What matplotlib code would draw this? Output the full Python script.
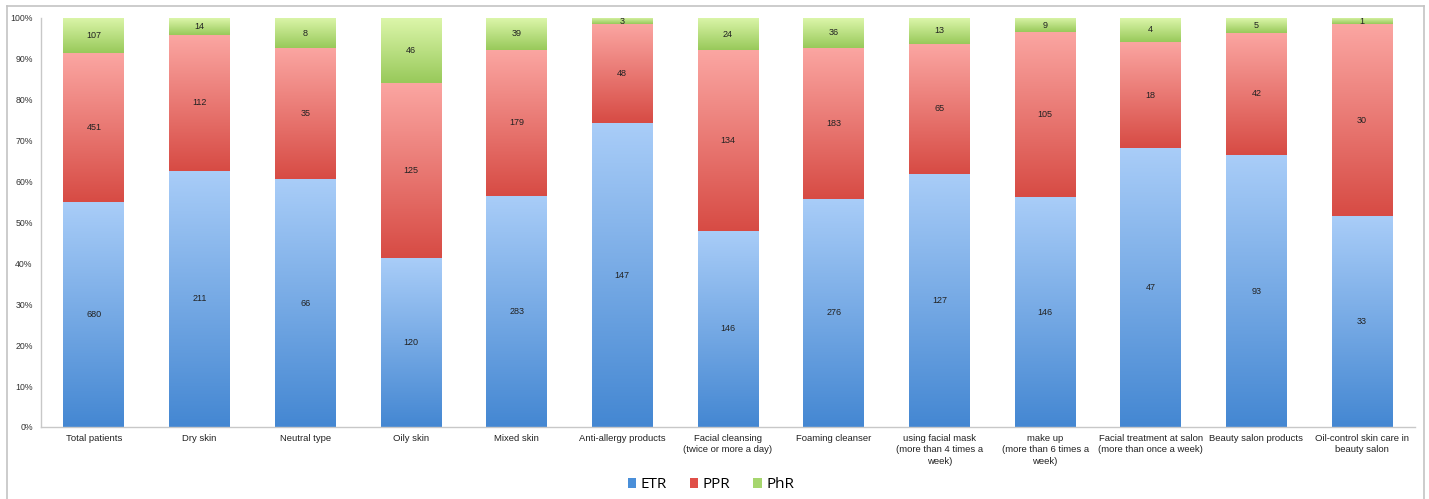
import numpy as np
import matplotlib
matplotlib.use("Agg")
import matplotlib.pyplot as plt
from matplotlib.colors import LinearSegmentedColormap
from matplotlib.lines import Line2D
from matplotlib.patches import Patch

categories = [
    "Total patients", "Dry skin", "Neutral type", "Oily skin", "Mixed skin",
    "Anti-allergy products", "Facial cleansing\n(twice or more a day)",
    "Foaming cleanser", "using facial mask\n(more than 4 times a\nweek)",
    "make up\n(more than 6 times a\nweek)",
    "Facial treatment at salon\n(more than once a week)",
    "Beauty salon products", "Oil-control skin care in\nbeauty salon",
]
etr = [680, 211, 66, 120, 283, 147, 146, 276, 127, 146, 47, 93, 33]
ppr = [451, 112, 35, 125, 179, 48, 134, 183, 65, 105, 18, 42, 30]
phr = [107, 14, 8, 46, 39, 3, 24, 36, 13, 9, 4, 5, 1]
series_names = ["ETR", "PPR", "PhR"]
yticks = [0, 10, 20, 30, 40, 50, 60, 70, 80, 90, 100]

W, H = 1429, 499
fig = plt.figure(figsize=(W / 100, H / 100), dpi=100)
fig.patch.set_facecolor("white")
ax = fig.add_axes([41 / W, 1 - 427 / H, (1415 - 41) / W, (427 - 18) / H])

counts = np.array([etr, ppr, phr], dtype=float)
totals = counts.sum(axis=0)
pct = counts / totals * 100
x = np.arange(len(categories))

grad = [("#a9cdf8", "#4487d2"), ("#fba6a2", "#d74b44"), ("#dcf6aa", "#98c95a")]
legend_cols = ["#4a8fd9", "#e04f48", "#a6d66e"]

bottom = np.zeros(len(categories))
for s in range(3):
    bars = ax.bar(x, pct[s], width=0.575, bottom=bottom, color="none",
                  edgecolor="none", zorder=2)
    cmap = LinearSegmentedColormap.from_list("g%d" % s, [grad[s][1], grad[s][0]])
    gimg = np.linspace(0, 1, 256).reshape(-1, 1)
    for b in bars:
        x0, y0 = b.get_x(), b.get_y()
        w, h = b.get_width(), b.get_height()
        im = ax.imshow(gimg, cmap=cmap, origin="lower", aspect="auto",
                       extent=(x0, x0 + w, y0, y0 + h), zorder=1,
                       interpolation="bilinear")
        im.set_clip_path(b)
    for i, b in enumerate(bars):
        ax.text(b.get_x() + b.get_width() / 2, b.get_y() + b.get_height() / 2,
                "%d" % counts[s, i], ha="center", va="center", fontsize=6.5,
                color="#222222", family="Liberation Sans", zorder=3)
    bottom += pct[s]

ax.set_xlim(-0.5, len(categories) - 0.5)
ax.set_ylim(0, 100)
ax.set_yticks(yticks)
ax.set_yticklabels(["%d%%" % t for t in yticks], family="Liberation Sans",
                   fontsize=6.3, color="#333333")
ax.set_xticks(x)
ax.set_xticklabels(categories, family="Liberation Sans", fontsize=6.8,
                   color="#222222", linespacing=1.35, va="top")
ax.tick_params(axis="both", length=0)
ax.tick_params(axis="x", pad=5)
ax.tick_params(axis="y", pad=6)
for side in ["top", "right"]:
    ax.spines[side].set_visible(False)
for side in ["left", "bottom"]:
    ax.spines[side].set_color("#c8c8c8")
    ax.spines[side].set_linewidth(1.0)

handles = [Patch(facecolor=c, edgecolor="none") for c in legend_cols]
fig.legend(handles, series_names, loc="center", bbox_to_anchor=(711 / W, 1 - 485 / H),
           ncol=3, frameon=False, prop={"family": "Open Sans", "size": 11},
           handlelength=0.55, handleheight=0.55, handletextpad=0.3, columnspacing=1.5)

fc = "#c4c4c4"
fig.add_artist(Line2D([7 / W, 1424 / W], [1 - 6 / H, 1 - 6 / H], color=fc, lw=1.2,
                      transform=fig.transFigure))
fig.add_artist(Line2D([7 / W, 7 / W], [0, 1 - 6 / H], color=fc, lw=1.2,
                      transform=fig.transFigure))
fig.add_artist(Line2D([1424 / W, 1424 / W], [0, 1 - 6 / H], color=fc, lw=1.2,
                      transform=fig.transFigure))

fig.savefig("out.png", dpi=100)
